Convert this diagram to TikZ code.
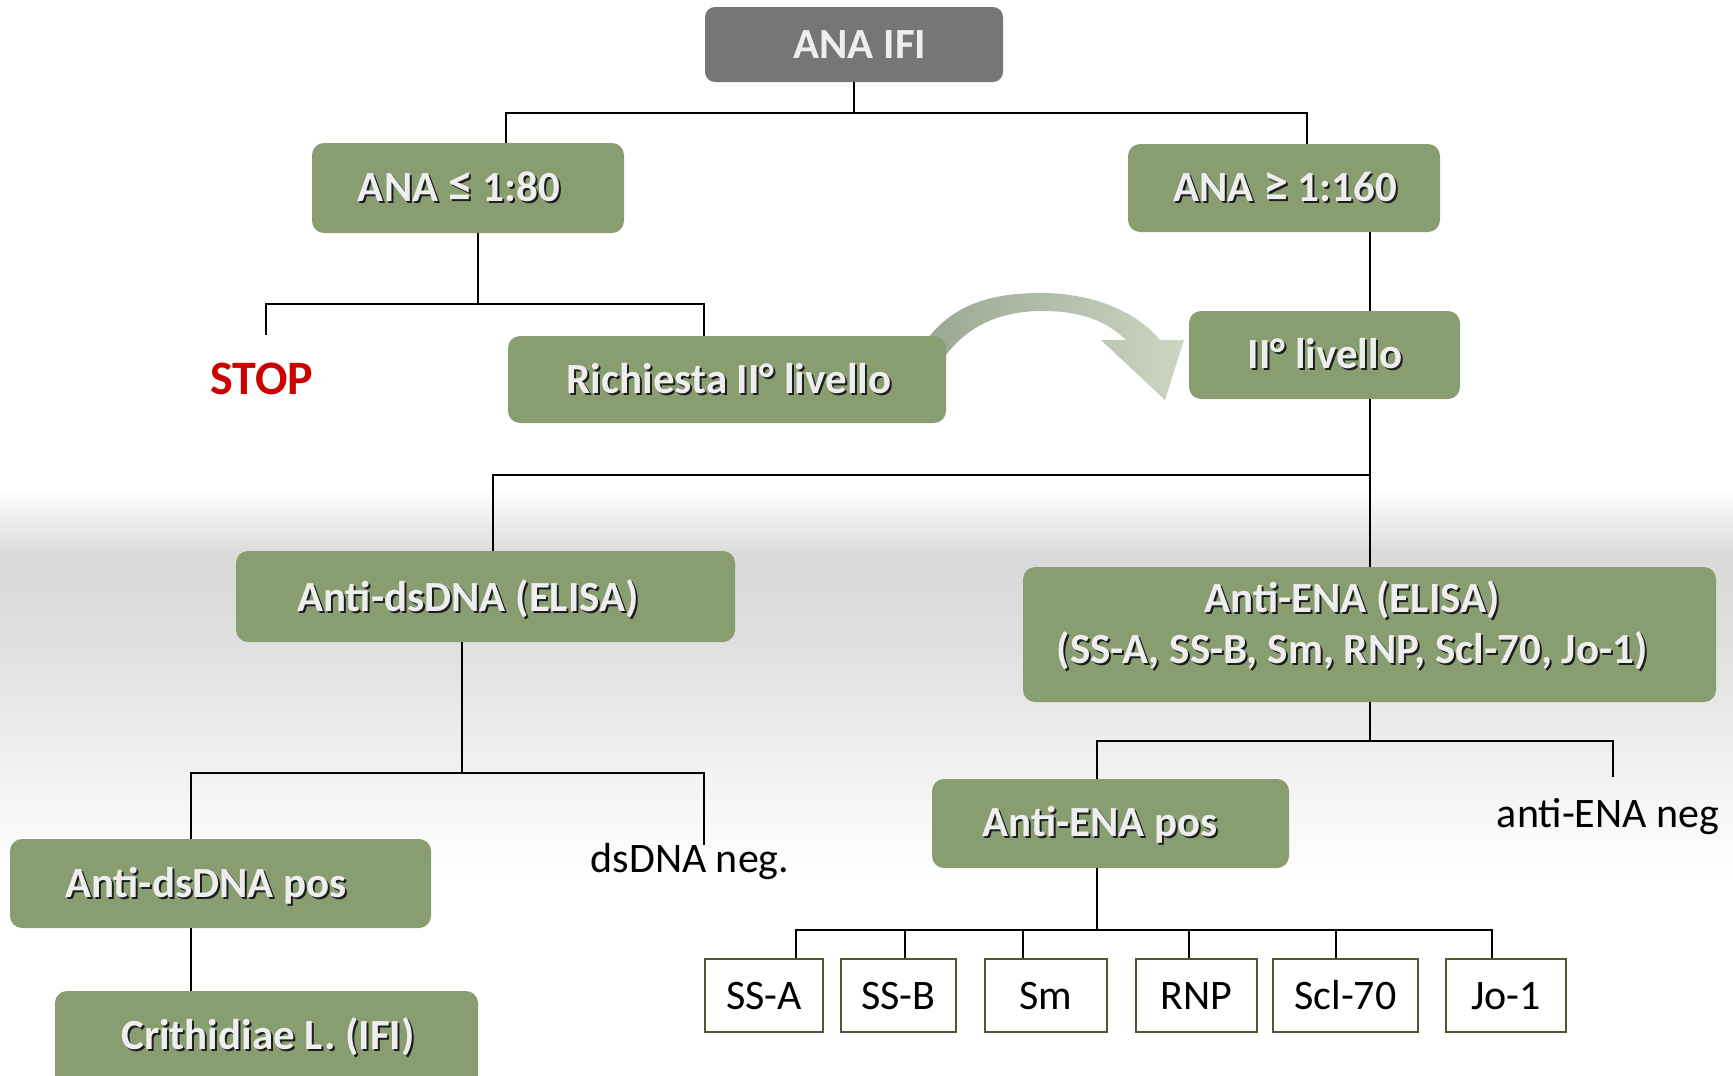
\documentclass[tikz,border=0pt]{standalone}
\usepackage{fontspec}
\setmainfont{Carlito}
\usetikzlibrary{calc}
\definecolor{boxgreen}{RGB}{137,158,112}
\definecolor{boxgray}{RGB}{118,118,118}
\definecolor{txtlight}{RGB}{238,238,238}
\definecolor{txtshadow}{RGB}{30,30,30}
\definecolor{olivedark}{RGB}{79,89,48}
\definecolor{stopred}{RGB}{204,0,0}
\definecolor{bgA}{RGB}{217,217,217}
\definecolor{bgB}{RGB}{224,224,224}
\definecolor{bgC}{RGB}{240,240,240}
\definecolor{arrL}{RGB}{155,167,145}
\definecolor{arrR}{RGB}{204,214,193}
\newcommand\shtxt[1]{\rlap{\kern2pt\raisebox{-2pt}{\textcolor{txtshadow}{#1}}}#1}
\newcommand\bigle{{\fontsize{50}{50}\selectfont ≤}}
\newcommand\bigge{{\fontsize{50}{50}\selectfont ≥}}
\tikzset{
  greenbox/.style={fill=boxgreen, rounded corners=12pt, inner sep=0pt, minimum width=#1},
  graybox/.style={fill=boxgray, rounded corners=10pt, inner sep=0pt},
  gtext/.style={text=txtlight, font=\fontsize{43}{51}\selectfont\bfseries, inner sep=0pt, text height=27pt, text depth=0pt},
  conn/.style={draw=black, line width=1.6pt},
  smallbox/.style={draw=olivedark, line width=1.8pt, fill=white, font=\fontsize{42}{50}\selectfont, inner sep=0pt, text height=27pt, text depth=0pt, minimum height=73pt},
  plaintext/.style={font=\fontsize{42}{50}\selectfont, inner sep=0pt, anchor=base}
}
\begin{document}
\begin{tikzpicture}[x=1pt,y=-1pt]
\useasboundingbox (0,0) rectangle (1733,1076);
\clip (0,0) rectangle (1733,1076);
\fill[white] (0,0) rectangle (1733,1076);
% background band
\fill[top color=white, bottom color=bgA] (0,490) rectangle (1733,556);
\fill[top color=bgA, bottom color=bgB] (0,555) rectangle (1733,651);
\fill[top color=bgB, bottom color=bgC] (0,650) rectangle (1733,761);
\fill[top color=bgC, bottom color=white] (0,760) rectangle (1733,880);

% curved arrow (behind the box)
\shade[left color=arrL, right color=arrR]
  (925,342) .. controls (955,300) and (1000,293) .. (1042,293)
  .. controls (1090,293) and (1135,310) .. (1160,340)
  -- (1184,340) -- (1165,400) -- (1101,340) -- (1126,340)
  .. controls (1105,320) and (1080,311) .. (1042,311)
  .. controls (1000,311) and (968,326) .. (946,355) -- cycle;

% boxes
\node[graybox, minimum width=298pt, minimum height=75pt] (ifi) at (854,44.5) {};
\node[greenbox=312pt, minimum height=90pt] (le80) at (468,188) {};
\node[greenbox=312pt, minimum height=88pt] (ge160) at (1284,188) {};
\node[greenbox=438pt, minimum height=87pt] (ric) at (727,379.5) {};
\node[greenbox=271pt, minimum height=88pt] (liv) at (1324.5,355) {};
\node[greenbox=499pt, minimum height=91pt] (dsdna) at (485.5,596.5) {};
\node[greenbox=693pt, minimum height=135pt] (ena) at (1369.5,634.5) {};
\node[greenbox=421pt, minimum height=89pt] (dspos) at (220.5,883.5) {};
\node[greenbox=423pt, minimum height=100pt] (crith) at (266.5,1041) {};
\node[greenbox=357pt, minimum height=89pt] (enapos) at (1110.5,823.5) {};

% texts in boxes
\node[gtext, text=txtlight] (ifit) at (860,44.5) {ANA IFI};
\node[gtext] (le80t) at (459,188) {\shtxt{ANA \bigle{} 1:80}};
\node[gtext] (ge160t) at (1285,188) {\shtxt{ANA \bigge{} 1:160}};
\node[gtext] (rict) at (729,380) {\shtxt{Richiesta II° livello}};
\node[gtext] (livt) at (1325,355) {\shtxt{II° livello}};
\node[gtext] (dsdnat) at (468,598) {\shtxt{Anti-dsDNA (ELISA)}};
\node[gtext] (enat1) at (1352,599) {\shtxt{Anti-ENA (ELISA)}};
\node[gtext] (enat2) at (1352,650) {\shtxt{(SS-A, SS-B, Sm, RNP, Scl-70, Jo-1)}};
\node[gtext] (enapost) at (1100,823) {\shtxt{Anti-ENA pos}};
\node[gtext] (dspost) at (206,884) {\shtxt{Anti-dsDNA pos}};
\node[gtext] (craitht) at (268,1036) {\shtxt{Crithidiae L. (IFI)}};

% free texts
\node[font=\fontsize{48}{56}\selectfont\bfseries, text=stopred, inner sep=0pt, text height=30pt, text depth=0pt] (stop) at (262,379) {STOP};
\node[plaintext] (dneg) at (690,872) {dsDNA neg.};
\node[plaintext] (eneg) at (1608,827) {anti-ENA neg};

% small boxes
\node[smallbox, minimum width=118pt] (ssa) at (764,995.5) {SS-A};
\node[smallbox, minimum width=115pt] (ssb) at (898.5,995.5) {SS-B};
\node[smallbox, minimum width=122pt] (sm) at (1046,995.5) {Sm};
\node[smallbox, minimum width=121pt] (rnp) at (1196.5,995.5) {RNP};
\node[smallbox, minimum width=145pt] (scl) at (1345.5,995.5) {Scl-70};
\node[smallbox, minimum width=120pt] (jo) at (1506,995.5) {Jo-1};

% connectors
\coordinate (t1) at (506,113);
\coordinate (t2) at (1307,113);
\draw[conn] (ifi.south) -- (ifi.south |- t1);
\draw[conn] (le80.north -| t1) -- (t1) -- (t2) -- (ge160.north -| t2);

\coordinate (l1) at (478,304);
\coordinate (l2) at (266,304);
\coordinate (l3) at (704,304);
\coordinate (stopend) at (266,335);
\draw[conn] (le80.south -| l1) -- (l1);
\draw[conn] (stopend) -- (l2) -- (l3) -- (ric.north -| l3);

\coordinate (m) at (1370,475);
\coordinate (m2) at (493,475);
\draw[conn] (ge160.south -| m) -- (liv.north -| m);
\draw[conn] (liv.south -| m) -- (ena.north -| m);
\draw[conn] (m) -- (m2) -- (dsdna.north -| m2);

\coordinate (d0) at (462,773);
\coordinate (d1) at (191,773);
\coordinate (d2) at (704,773);
\coordinate (dnegend) at (704,845);
\draw[conn] (dsdna.south -| d0) -- (d0);
\draw[conn] (dspos.north -| d1) -- (d1) -- (d2) -- (dnegend);
\draw[conn] (dspos.south -| d1) -- (crith.north -| d1);

\coordinate (e0) at (1370,741);
\coordinate (e1) at (1097,741);
\coordinate (e2) at (1613,741);
\coordinate (enegend) at (1613,777);
\draw[conn] (ena.south -| e0) -- (e0);
\draw[conn] (enapos.north -| e1) -- (e1) -- (e2) -- (enegend);

\coordinate (s0) at (1097,930);
\coordinate (sa) at (796,930);
\coordinate (sb) at (905,930);
\coordinate (sc) at (1023,930);
\coordinate (sd) at (1189,930);
\coordinate (se) at (1336,930);
\coordinate (sf) at (1492,930);
\draw[conn] (enapos.south -| s0) -- (s0);
\draw[conn] (ssa.north -| sa) -- (sa) -- (sf) -- (jo.north -| sf);
\draw[conn] (sb) -- (ssb.north -| sb);
\draw[conn] (sc) -- (sm.north -| sc);
\draw[conn] (sd) -- (rnp.north -| sd);
\draw[conn] (se) -- (scl.north -| se);
\end{tikzpicture}
\end{document}
